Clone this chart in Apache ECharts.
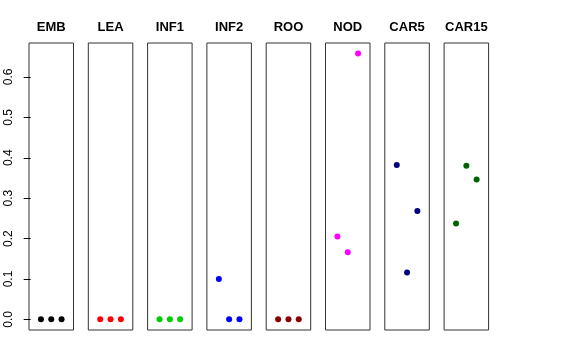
<!DOCTYPE html>
<html>
<head>
<meta charset="utf-8">
<script src="https://cdn.jsdelivr.net/npm/echarts@6/dist/echarts.min.js"></script>
<style>html,body{margin:0;padding:0;background:#fff;}#c{width:576px;height:360px;}</style>
</head>
<body>
<div id="c"></div>
<script>
var panels = ['EMB', 'LEA', 'INF1', 'INF2', 'ROO', 'NOD', 'CAR5', 'CAR15'];
var colors = ['#000000', '#FF0000', '#00CD00', '#0000FF', '#8B0000', '#FF00FF', '#000080', '#006400'];
var positions = [1, 2, 3];
var values = [
  [0, 0, 0],
  [0, 0, 0],
  [0, 0, 0],
  [0.100, 0, 0],
  [0, 0, 0],
  [0.205, 0.166, 0.658],
  [0.382, 0.116, 0.268],
  [0.237, 0.380, 0.346]
];
var yTicks = [0, 0.1, 0.2, 0.3, 0.4, 0.5, 0.6];

(function () {
  var chart = echarts.init(document.getElementById('c'));
  var grids = [], xAxes = [], yAxes = [], series = [];
  var left0 = 29, step = 59.3, w = 44.5, gTop = 43, gH = 287;
  var font = 'Liberation Sans, Arial, Helvetica, sans-serif';
  panels.forEach(function (p, i) {
    grids.push({left: left0 + i * step, top: gTop, width: w, height: gH, show: true,
      borderColor: '#333', borderWidth: 1, backgroundColor: 'transparent', containLabel: false});
    xAxes.push({type: 'value', gridIndex: i, min: -0.16, max: 4.16, position: 'top',
      name: p, nameLocation: 'middle', nameGap: 9,
      nameTextStyle: {fontFamily: font, fontWeight: 'bold', fontSize: 13, color: '#000'},
      axisLine: {show: false}, axisTick: {show: false}, axisLabel: {show: false}, splitLine: {show: false}});
    yAxes.push({type: 'value', gridIndex: i, min: -0.0263, max: 0.684,
      axisLine: {show: false},
      axisTick: {show: i === 0, length: 7, lineStyle: {color: '#000'}, customValues: yTicks},
      axisLabel: {show: i === 0, rotate: 90, margin: 14, fontFamily: font, fontSize: 12, color: '#000',
        customValues: yTicks, formatter: function (v) { return v.toFixed(1); }},
      splitLine: {show: false}});
    series.push({type: 'scatter', xAxisIndex: i, yAxisIndex: i, symbolSize: 6,
      itemStyle: {color: colors[i], opacity: 1},
      data: positions.map(function (x, j) { return [x, values[i][j]]; })});
  });
  chart.setOption({animation: false, grid: grids, xAxis: xAxes, yAxis: yAxes, series: series});
})();
</script>
</body>
</html>
